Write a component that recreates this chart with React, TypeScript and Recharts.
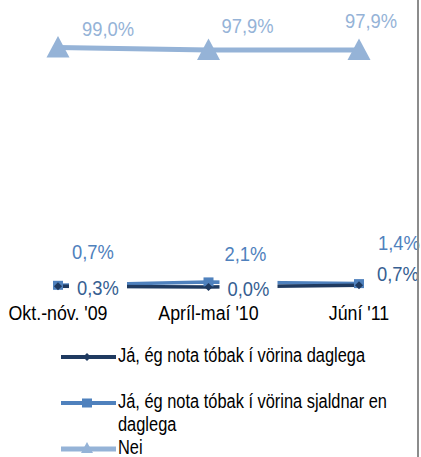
import { LineChart, Line, XAxis, YAxis, LabelList } from 'recharts';

const periods = ["Okt.-nóv. '09", "Apríl-maí '10", "Júní '11"];
const daily = [0.3, 0.0, 0.7];
const lessOften = [0.7, 2.1, 1.4];
const no = [99.0, 97.9, 97.9];
const seriesNames = [
  'Já, ég nota tóbak í vörina daglega',
  'Já, ég nota tóbak í vörina sjaldnar en daglega',
  'Nei',
];

const data = periods.map((period, i) => ({ period, daily: daily[i], lessOften: lessOften[i], no: no[i] }));

const FONT = '"Liberation Sans", Arial, sans-serif';
const DARK = '#1f3a60';
const MID = '#4f81bd';
const LIGHT = '#95b3d7';

// label nudges, like the hand-placed ones in the original sheet
const dailyOffsets = [[40, 2], [40, 2], [39, -11]];
const lessOffsets = [[35, -33], [37, -28], [40, -40]];
const noOffsets = [[50, -18], [39, -24], [12, -29]];

const fmt = (v: number) => v.toFixed(1).replace('.', ',') + '%';

const makeLabel = (offsets: number[][], color: string, knockout = false) => (props: any) => {
  const { x, y, value, index } = props;
  const [dx, dy] = offsets[index] || [0, 0];
  const cx = x + dx;
  const cy = y + dy;
  return (
    <g key={index}>
      {knockout && <rect x={cx - 29} y={cy - 11} width={58} height={20} fill="#fff" />}
      <text transform={`translate(${cx},${cy}) scale(0.92,1)`} textAnchor="middle" dominantBaseline="central" fontSize={20} fontFamily={FONT} fill={color}>
        {fmt(Number(value))}
      </text>
    </g>
  );
};

const Triangle = (props: any) => {
  const { cx, cy } = props;
  if (cx == null || cy == null) return null;
  return <path d={`M${cx},${cy - 11.5} L${cx + 11.5},${cy + 10} L${cx - 11.5},${cy + 10} Z`} fill={LIGHT} />;
};

const Square = (props: any) => {
  const { cx, cy } = props;
  if (cx == null || cy == null) return null;
  return <rect x={cx - 5} y={cy - 4.5} width={10} height={9} fill={MID} />;
};

const Diamond = (props: any) => {
  const { cx, cy } = props;
  if (cx == null || cy == null) return null;
  return <path d={`M${cx},${cy - 4} L${cx + 4},${cy} L${cx},${cy + 4} L${cx - 4},${cy} Z`} fill={DARK} />;
};

const PeriodTick = (props: any) => {
  const { x, y, payload } = props;
  return (
    <text transform={`translate(${x},${y + 18}) scale(0.89,1)`} textAnchor="middle" dominantBaseline="central" fontSize={20} fontFamily={FONT} fill="#000">
      {payload.value}
    </text>
  );
};

const legendMarks = [
  { color: DARK, width: 4, mark: <path d="M27,-4 L31,0 L27,4 L23,0 Z" fill={DARK} /> },
  { color: MID, width: 4, mark: <rect x={22} y={-4.5} width={10} height={9} fill={MID} /> },
  { color: LIGHT, width: 5, mark: <path d="M27,-7 L33,4 L21,4 Z" fill={LIGHT} /> },
];
const legendTops = [344, 390, 436];

export default function App() {
  return (
    <div style={{ position: 'absolute', left: 0, top: 0, width: 421, height: 457, background: '#fff', overflow: 'hidden' }}>
      <LineChart width={421} height={457} data={data} margin={{ top: 45, right: 0, bottom: 140, left: 0 }}>
        <XAxis dataKey="period" axisLine={false} tickLine={false} padding={{ left: 58, right: 62 }} tick={<PeriodTick />} interval={0} />
        <YAxis hide domain={[0, 100]} />
        <Line dataKey="lessOften" stroke={MID} strokeWidth={3.5} dot={<Square />} isAnimationActive={false}>
          <LabelList dataKey="lessOften" content={makeLabel(lessOffsets, MID)} />
        </Line>
        <Line dataKey="no" stroke={LIGHT} strokeWidth={5} dot={<Triangle />} isAnimationActive={false}>
          <LabelList dataKey="no" content={makeLabel(noOffsets, LIGHT)} />
        </Line>
        <Line dataKey="daily" stroke={DARK} strokeWidth={3.5} dot={<Diamond />} isAnimationActive={false}>
          <LabelList dataKey="daily" content={makeLabel(dailyOffsets, '#375f92', true)} />
        </Line>
      </LineChart>
      {seriesNames.map((name, i) => (
        <div key={name} style={{ position: 'absolute', left: 60, top: legendTops[i], display: 'flex', alignItems: 'flex-start' }}>
          <svg width={58} height={24} style={{ flex: 'none' }}>
            <g transform="translate(0,13)">
              <line x1={1} x2={56} y1={0} y2={0} stroke={legendMarks[i].color} strokeWidth={legendMarks[i].width} />
              {legendMarks[i].mark}
            </g>
          </svg>
          <div
            style={{
              width: 354,
              fontFamily: FONT,
              fontSize: 20,
              lineHeight: '23px',
              color: '#000',
              transform: 'scaleX(0.82)',
              transformOrigin: 'left top',
              flex: 'none',
            }}
          >
            {name}
          </div>
        </div>
      ))}
      <div style={{ position: 'absolute', left: 417, top: 0, width: 2, height: 457, background: '#8c8c8c' }} />
    </div>
  );
}
